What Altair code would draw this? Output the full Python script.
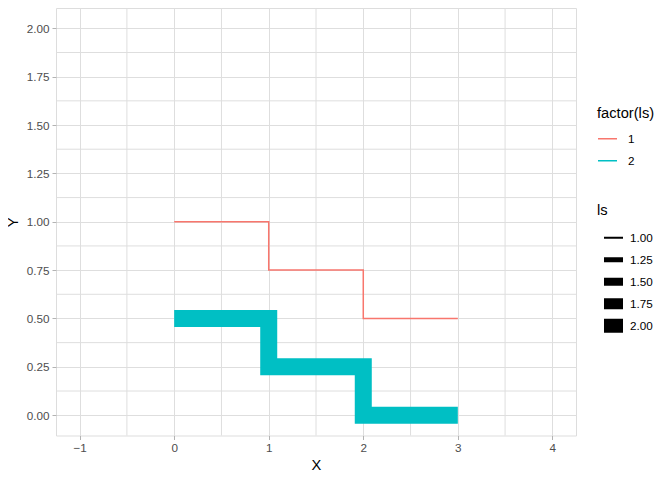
import altair as alt
import pandas as pd

# data
xs = [0, 1, 2, 3]
y_ls1 = [1.0, 0.75, 0.5, 0.5]
y_ls2 = [0.5, 0.25, 0.0, 0.0]
ls_levels = [1, 2]
x_major = [-1, 0, 1, 2, 3, 4]
x_minor = [-0.5, 0.5, 1.5, 2.5, 3.5]
y_major = [0, 0.25, 0.5, 0.75, 1.0, 1.25, 1.5, 1.75, 2.0]
y_minor = [0.125, 0.375, 0.625, 0.875, 1.125, 1.375, 1.625, 1.875]
size_legend_values = [1.0, 1.25, 1.5, 1.75, 2.0]
colors = ["#F8766D", "#00BFC4"]

rows = []
for lvl, ys in zip(ls_levels, [y_ls1, y_ls2]):
    for x, y in zip(xs, ys):
        rows.append({"X": x, "Y": y, "ls": lvl, "lsf": str(lvl)})
df = pd.DataFrame(rows)

FONT = "Liberation Sans"
GRID = "#DEDEDE"

xscale = alt.Scale(domain=[-1.25, 4.25], nice=False, zero=False)
yscale = alt.Scale(domain=[-0.105, 2.105], nice=False, zero=False)

xaxis = alt.Axis(values=x_major, format="d", grid=True, gridColor=GRID, gridWidth=1,
                 domain=False, tickColor="#B3B3B3", tickSize=4, labelPadding=3,
                 labelFont=FONT, labelFontSize=11.7, labelColor="#4D4D4D",
                 title="X", titleFont=FONT, titleFontSize=14.7, titleFontWeight="normal",
                 titleColor="#000000", titlePadding=3)
yaxis = alt.Axis(values=y_major, format=".2f", grid=True, gridColor=GRID, gridWidth=1,
                 domain=False, tickColor="#B3B3B3", tickSize=4, labelPadding=3,
                 labelFont=FONT, labelFontSize=11.7, labelColor="#4D4D4D",
                 title="Y", titleFont=FONT, titleFontSize=14.7, titleFontWeight="normal",
                 titleColor="#000000", titlePadding=6)

minor_x = alt.Chart(pd.DataFrame({"v": x_minor})).mark_rule(color=GRID, strokeWidth=1).encode(
    x=alt.X("v:Q", scale=xscale, axis=xaxis))
minor_y = alt.Chart(pd.DataFrame({"v": y_minor})).mark_rule(color=GRID, strokeWidth=1).encode(
    y=alt.Y("v:Q", scale=yscale, axis=yaxis))

lines = alt.Chart(df).mark_line(interpolate="step-after", strokeCap="butt", strokeJoin="miter").encode(
    x=alt.X("X:Q", scale=xscale, axis=xaxis),
    y=alt.Y("Y:Q", scale=yscale, axis=yaxis),
    color=alt.Color("lsf:N", scale=alt.Scale(domain=[str(v) for v in ls_levels], range=colors),
                    legend=alt.Legend(title="factor(ls)", orient="none", legendX=541, legendY=98,
                                      symbolType="stroke", symbolSize=361, symbolStrokeWidth=1.5,
                                      clipHeight=18,
                                      labelFont=FONT, labelFontSize=11.7, labelColor="#000000",
                                      titleFont=FONT, titleFontSize=14.7, titleFontWeight="normal",
                                      titleColor="#000000", titlePadding=9, rowPadding=4,
                                      labelOffset=10)),
    strokeWidth=alt.StrokeWidth("ls:Q", scale=alt.Scale(domain=[1, 2], range=[1.5, 17]), legend=None),
    detail="lsf:N",
)

size_leg = alt.Chart(df).mark_line(strokeCap="butt", color="black").encode(
    x=alt.X("X:Q", scale=xscale, axis=xaxis),
    y=alt.Y("Y:Q", scale=yscale, axis=yaxis),
    strokeWidth=alt.StrokeWidth("ls:Q", scale=alt.Scale(domain=[1, 2], range=[2, 14]),
                                legend=alt.Legend(title="ls", orient="none", legendX=541, legendY=195,
                                                  values=size_legend_values, format=".2f",
                                                  symbolType="stroke", symbolSize=361,
                                                  symbolStrokeColor="black",
                                                  clipHeight=18,
                                                  labelFont=FONT, labelFontSize=11.7, labelColor="#000000",
                                                  titleFont=FONT, titleFontSize=14.7, titleFontWeight="normal",
                                                  titleColor="#000000", titlePadding=11, rowPadding=4,
                                                  labelOffset=0)),
).transform_filter("false")

chart = alt.layer(minor_x, minor_y, lines, size_leg).resolve_scale(
    strokeWidth="independent"
).properties(
    width=520, height=427.5,
    autosize=alt.AutoSizeParams(type="none"),
    padding={"left": 48, "top": 0, "right": 88, "bottom": 40},
).configure_view(stroke="#B3B3B3", strokeWidth=1).configure(background="white")

chart.save("out.html", embed_options={"renderer": "svg", "actions": False})
